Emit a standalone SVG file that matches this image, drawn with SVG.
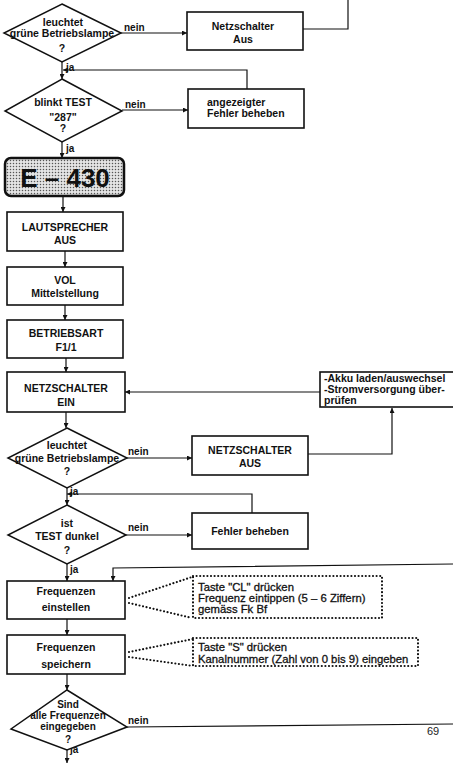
<svg xmlns="http://www.w3.org/2000/svg" width="453" height="764" viewBox="0 0 453 764">
  <style>
    .box { fill: #fff; stroke: #111; stroke-width: 1.6; }
    .dia { fill: #fff; stroke: #111; stroke-width: 1.5; }
    .t { font-family: "Liberation Sans", Arial, sans-serif; font-weight: bold; font-size: 10.5px; fill: #111; text-anchor: middle; }
    .tl { font-family: "Liberation Sans", Arial, sans-serif; font-weight: bold; font-size: 10.5px; fill: #111; }
    .note { font-family: "Liberation Sans", Arial, sans-serif; font-size: 11.3px; fill: #111; stroke: #111; stroke-width: 0.3; }
    .lbl { font-family: "Liberation Sans", Arial, sans-serif; font-weight: bold; font-size: 10px; fill: #111; }
    .ln { fill: none; stroke: #111; stroke-width: 1.2; }
    .arr { fill: none; stroke: #111; stroke-width: 1.2; marker-end: url(#ah); }
    .dot { fill: none; stroke: #111; stroke-width: 2.2; stroke-dasharray: 0 3.6; stroke-linecap: round; }
  </style>
  <defs>
    <marker id="ah" viewBox="0 0 10 10" refX="10" refY="5" markerWidth="5" markerHeight="5" orient="auto" markerUnits="userSpaceOnUse">
      <path d="M0,0 L10,5 L0,10 z" fill="#111"/>
    </marker>
    <!-- halftone screen for the model plate -->
    <pattern id="screen" width="3" height="3" patternUnits="userSpaceOnUse">
      <rect width="3" height="3" fill="#e4e4e4"/>
      <circle cx="1.5" cy="1.5" r="0.75" fill="#555"/>
    </pattern>
  </defs>

  <!-- connectors -->
  <g id="connectors">
    <path class="arr" d="M121,33 H187"/>
    <path class="ln" d="M303,29 H348 V0"/>
    <path class="arr" d="M62,62 V79"/>
    <path class="arr" d="M247,89 V70 H63"/>
    <path class="arr" d="M122,110 H188"/>
    <path class="arr" d="M62,142 V158"/>
    <path class="arr" d="M63,196 V212"/>
    <path class="arr" d="M65,251 V267"/>
    <path class="arr" d="M65,305 V320"/>
    <path class="arr" d="M66,358 V372"/>
    <path class="arr" d="M320,392 H125"/>
    <path class="arr" d="M66,412 V428"/>
    <path class="arr" d="M127,458 H192"/>
    <path class="arr" d="M308,454 H392 V408"/>
    <path class="arr" d="M67,488 V505"/>
    <path class="arr" d="M252,513 V494 H67"/>
    <path class="arr" d="M126,535 H192"/>
    <path class="arr" d="M67,564 V581"/>
    <path class="arr" d="M453,564 L113,568 V581"/>
    <path class="arr" d="M67,619 V635"/>
    <path class="arr" d="M67,674 V690"/>
    <path class="ln" d="M127,727 L453,724"/>
    <path class="arr" d="M67,750 V763"/>
    <!-- dotted callout leaders -->
    <path class="dot" d="M129,598 L192,577"/>
    <path class="dot" d="M129,603 L192,618"/>
    <path class="dot" d="M129,652 L193,639"/>
    <path class="dot" d="M129,657 L193,666"/>
    <!-- branch labels -->
    <text class="lbl" x="124" y="31">nein</text>
    <text class="lbl" x="66" y="71">ja</text>
    <text class="lbl" x="125" y="108">nein</text>
    <text class="lbl" x="66" y="152">ja</text>
    <text class="lbl" x="128" y="455">nein</text>
    <text class="lbl" x="70" y="495">ja</text>
    <text class="lbl" x="128" y="531">nein</text>
    <text class="lbl" x="70" y="573">ja</text>
    <text class="lbl" x="128" y="724">nein</text>
    <text class="lbl" x="70" y="753">ja</text>
  </g>

  <g id="d-lampe1">
    <polygon class="dia" points="62,4 121,33 62,62 4,33"/>
    <text class="t" x="63" y="26">leuchtet</text>
    <text class="t" x="62" y="37">grüne Betriebslampe</text>
    <text class="t" x="62" y="52">?</text>
  </g>
  <g id="b-netz-aus1">
    <rect class="box" x="187" y="12" width="116" height="38"/>
    <text class="t" x="243" y="30">Netzschalter</text>
    <text class="t" x="243" y="43">Aus</text>
  </g>
  <g id="d-test287">
    <polygon class="dia" points="62,79 122,111 62,142 5,111"/>
    <text class="t" x="63" y="106">blinkt TEST</text>
    <text class="t" x="63" y="121">"287"</text>
    <text class="t" x="63" y="132">?</text>
  </g>
  <g id="b-fehler1">
    <rect class="box" x="188" y="89" width="116" height="39"/>
    <text class="tl" x="207" y="106">angezeigter</text>
    <text class="tl" x="207" y="117">Fehler beheben</text>
  </g>
  <g id="b-e430">
    <rect x="5" y="158" width="119" height="38" rx="6" fill="url(#screen)" stroke="#111" stroke-width="2.5"/>
    <text x="65" y="187" font-family="Liberation Sans, Arial, sans-serif" font-weight="bold" font-size="26" text-anchor="middle" fill="#111">E – 430</text>
  </g>
  <g id="b-lautsprecher">
    <rect class="box" x="7" y="212" width="116" height="39"/>
    <text class="t" x="65" y="231">LAUTSPRECHER</text>
    <text class="t" x="65" y="244">AUS</text>
  </g>
  <g id="b-vol">
    <rect class="box" x="7" y="267" width="116" height="38"/>
    <text class="t" x="65" y="284">VOL</text>
    <text class="t" x="65" y="297">Mittelstellung</text>
  </g>
  <g id="b-betriebsart">
    <rect class="box" x="7" y="320" width="116" height="38"/>
    <text class="t" x="66" y="337">BETRIEBSART</text>
    <text class="t" x="66" y="351">F1/1</text>
  </g>
  <g id="b-netz-ein">
    <rect class="box" x="7" y="372" width="118" height="40"/>
    <text class="t" x="66" y="392">NETZSCHALTER</text>
    <text class="t" x="66" y="406">EIN</text>
  </g>
  <g id="b-akku">
    <rect class="box" x="320" y="372" width="140" height="35"/>
    <text class="tl" x="324" y="382">-Akku laden/auswechsel</text>
    <text class="tl" x="324" y="393">-Stromversorgung über-</text>
    <text class="tl" x="324" y="404">prüfen</text>
  </g>
  <g id="d-lampe2">
    <polygon class="dia" points="67,428 127,458 67,488 8,458"/>
    <text class="t" x="67" y="449">leuchtet</text>
    <text class="t" x="67" y="462">grüne Betriebslampe</text>
    <text class="t" x="67" y="475">?</text>
  </g>
  <g id="b-netz-aus2">
    <rect class="box" x="192" y="436" width="116" height="39"/>
    <text class="t" x="250" y="454">NETZSCHALTER</text>
    <text class="t" x="250" y="467">AUS</text>
  </g>
  <g id="d-dunkel">
    <polygon class="dia" points="67,505 126,535 67,564 8,535"/>
    <text class="t" x="67" y="527">ist</text>
    <text class="t" x="67" y="540">TEST dunkel</text>
    <text class="t" x="67" y="554">?</text>
  </g>
  <g id="b-fehler2">
    <rect class="box" x="192" y="513" width="116" height="36"/>
    <text class="t" x="250" y="535">Fehler beheben</text>
  </g>
  <g id="b-einstellen">
    <rect class="box" x="7" y="581" width="118" height="38"/>
    <text class="t" x="66" y="595">Frequenzen</text>
    <text class="t" x="66" y="611">einstellen</text>
  </g>
  <g id="n-einstellen">
    <rect class="dot" x="193" y="576" width="189" height="42"/>
    <text class="note" x="198" y="591">Taste "CL" drücken</text>
    <text class="note" x="198" y="602">Frequenz eintippen (5 – 6 Ziffern)</text>
    <text class="note" x="198" y="613">gemäss Fk Bf</text>
  </g>
  <g id="b-speichern">
    <rect class="box" x="7" y="635" width="118" height="39"/>
    <text class="t" x="66" y="651">Frequenzen</text>
    <text class="t" x="66" y="668">speichern</text>
  </g>
  <g id="n-speichern">
    <rect class="dot" x="193" y="638" width="225" height="28"/>
    <text class="note" x="198" y="651">Taste "S" drücken</text>
    <text class="note" x="198" y="663">Kanalnummer (Zahl von 0 bis 9) eingeben</text>
  </g>
  <g id="d-alle">
    <polygon class="dia" points="67,690 127,727 67,750 11,729"/>
    <text class="t" x="68" y="708" style="font-size:10px">Sind</text>
    <text class="t" x="68" y="719" style="font-size:10px">alle Frequenzen</text>
    <text class="t" x="68" y="730" style="font-size:10px">eingegeben</text>
    <text class="t" x="68" y="743" style="font-size:10px">?</text>
  </g>
  <text x="433" y="735" font-family="Liberation Sans, Arial, sans-serif" font-size="11" text-anchor="middle" fill="#222">69</text>
</svg>
